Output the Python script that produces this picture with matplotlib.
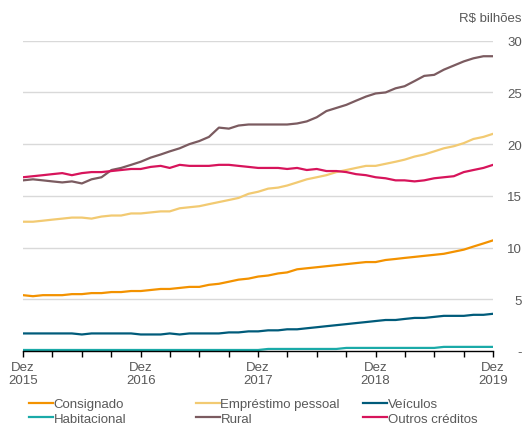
import numpy as np
import pandas as pd
import matplotlib
matplotlib.use("Agg")
import matplotlib.pyplot as plt
import matplotlib.dates as mdates
from matplotlib.lines import Line2D

plt.rcParams['font.family'] = ['Liberation Sans', 'DejaVu Sans']

months = pd.date_range('2015-12-01', '2019-12-01', freq='MS')

consignado = [5.4, 5.3, 5.4, 5.4, 5.4, 5.5, 5.5, 5.6, 5.6, 5.7, 5.7, 5.8, 5.8, 5.9, 6.0, 6.0, 6.1,
              6.2, 6.2, 6.4, 6.5, 6.7, 6.9, 7.0, 7.2, 7.3, 7.5, 7.6, 7.9, 8.0, 8.1, 8.2, 8.3,
              8.4, 8.5, 8.6, 8.6, 8.8, 8.9, 9.0, 9.1, 9.2, 9.3, 9.4, 9.6, 9.8, 10.1, 10.4, 10.7]
pessoal = [12.5, 12.5, 12.6, 12.7, 12.8, 12.9, 12.9, 12.8, 13.0, 13.1, 13.1, 13.3, 13.3, 13.4, 13.5,
           13.5, 13.8, 13.9, 14.0, 14.2, 14.4, 14.6, 14.8, 15.2, 15.4, 15.7, 15.8, 16.0, 16.3,
           16.6, 16.8, 17.0, 17.3, 17.5, 17.7, 17.9, 17.9, 18.1, 18.3, 18.5, 18.8, 19.0, 19.3,
           19.6, 19.8, 20.1, 20.5, 20.7, 21.0]
veiculos = [1.7, 1.7, 1.7, 1.7, 1.7, 1.7, 1.6, 1.7, 1.7, 1.7, 1.7, 1.7, 1.6, 1.6, 1.6, 1.7, 1.6,
            1.7, 1.7, 1.7, 1.7, 1.8, 1.8, 1.9, 1.9, 2.0, 2.0, 2.1, 2.1, 2.2, 2.3, 2.4, 2.5,
            2.6, 2.7, 2.8, 2.9, 3.0, 3.0, 3.1, 3.2, 3.2, 3.3, 3.4, 3.4, 3.4, 3.5, 3.5, 3.6]
habitacional = [0.1] * 25 + [0.2] * 8 + [0.3] * 10 + [0.4] * 6
rural = [16.5, 16.6, 16.5, 16.4, 16.3, 16.4, 16.2, 16.6, 16.8, 17.5, 17.7, 18.0, 18.3, 18.7, 19.0,
         19.3, 19.6, 20.0, 20.3, 20.7, 21.6, 21.5, 21.8, 21.9, 21.9, 21.9, 21.9, 21.9, 22.0,
         22.2, 22.6, 23.2, 23.5, 23.8, 24.2, 24.6, 24.9, 25.0, 25.4, 25.6, 26.1, 26.6, 26.7,
         27.2, 27.6, 28.0, 28.3, 28.5, 28.5]
outros = [16.8, 16.9, 17.0, 17.1, 17.2, 17.0, 17.2, 17.3, 17.3, 17.4, 17.5, 17.6, 17.6, 17.8, 17.9,
          17.7, 18.0, 17.9, 17.9, 17.9, 18.0, 18.0, 17.9, 17.8, 17.7, 17.7, 17.7, 17.6, 17.7,
          17.5, 17.6, 17.4, 17.4, 17.3, 17.1, 17.0, 16.8, 16.7, 16.5, 16.5, 16.4, 16.5, 16.7,
          16.8, 16.9, 17.3, 17.5, 17.7, 18.0]

names = ['Consignado', 'Empréstimo pessoal', 'Veículos', 'Habitacional', 'Rural', 'Outros créditos']
series = [consignado, pessoal, veiculos, habitacional, rural, outros]
colors = ['#F39200', '#F2CA72', '#005B7A', '#1AAAA8', '#7B5B60', '#D7145B']

y_ticks = [0, 5, 10, 15, 20, 25, 30]
y_labels = ['-', '5', '10', '15', '20', '25', '30']
year_ticks = pd.date_range('2015-12-01', '2019-12-01', freq='12MS')
year_labels = ['Dez\n2015', 'Dez\n2016', 'Dez\n2017', 'Dez\n2018', 'Dez\n2019']

grey = '#595959'
fs = 9.5
fig = plt.figure(figsize=(5.27, 4.27), dpi=100)
ax = fig.add_axes([0.0436, 0.1756, 0.892, 0.7267])

for v in y_ticks[1:]:
    ax.axhline(v, color='#D9D9D9', lw=1, zorder=0)

for vals, c in zip(series, colors):
    ax.plot(months, vals, color=c, lw=1.6, zorder=2)

ax.set_xlim(months[0], months[-1])
ax.set_ylim(0, 30)
for s in ['top', 'right', 'left']:
    ax.spines[s].set_visible(False)
ax.spines['bottom'].set_color('black')
ax.spines['bottom'].set_linewidth(1)

ax.yaxis.tick_right()
ax.set_yticks(y_ticks)
ax.set_yticklabels(y_labels, color=grey, fontsize=fs, ha='right')
ax.tick_params(axis='y', length=0, pad=21)

ax.set_xticks(year_ticks)
ax.set_xticklabels(year_labels, color=grey, fontsize=fs, linespacing=1.15)
ax.xaxis.set_minor_locator(mdates.MonthLocator(bymonth=[3, 6, 9, 12]))
ax.tick_params(axis='x', which='both', length=4, width=1, color='black', pad=3)

fig.text(0.99, 0.955, 'R$ bilhões', ha='right', va='center', color=grey, fontsize=fs)

cols = [(0.055, [0, 3]), (0.372, [1, 4]), (0.689, [2, 5])]
for x0, idx in cols:
    handles = [Line2D([], [], color=colors[i], lw=1.6) for i in idx]
    fig.legend(handles, [names[i] for i in idx], loc='upper left', bbox_to_anchor=(x0, 0.065),
               frameon=False, fontsize=fs, handlelength=1.8, handletextpad=0.05,
               labelspacing=0.15, borderaxespad=0, borderpad=0, labelcolor=grey)

fig.savefig('out.png', dpi=100)
